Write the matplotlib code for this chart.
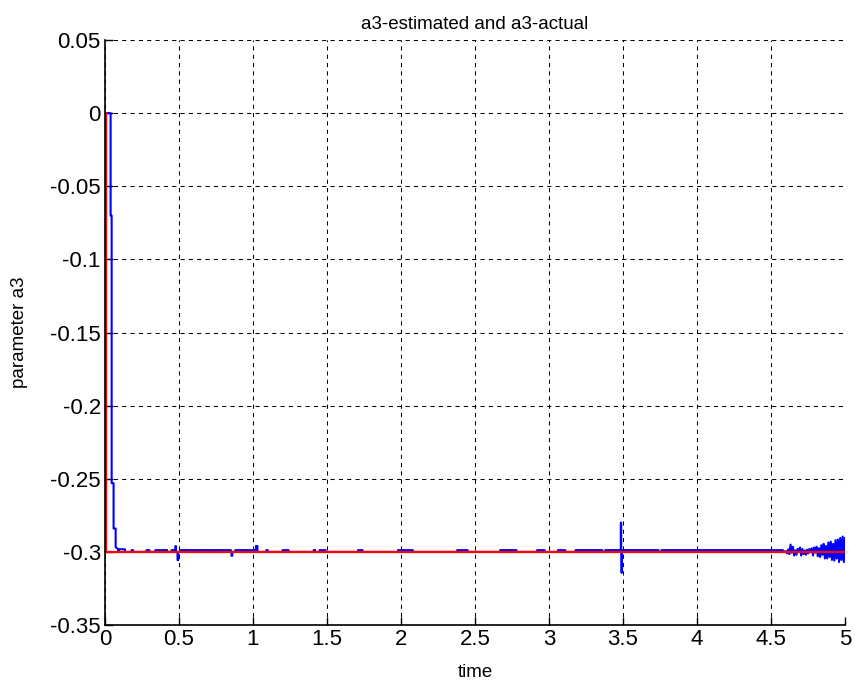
import matplotlib.pyplot as plt
import numpy as np

plt.rcParams["font.family"] = ["Liberation Sans", "DejaVu Sans"]

# Actual parameter: steps from 0 to -0.3 right at the start
actual_t = [0.0, 0.008, 0.008, 5.0]
actual_v = [0.0, 0.0, -0.3, -0.3]

# Estimated parameter: start-up transient
trans_t = [0.0, 0.038, 0.038, 0.045, 0.045, 0.058, 0.058, 0.072, 0.072, 0.09]
trans_v = [0.0, 0.0, -0.07, -0.07, -0.253, -0.253, -0.284, -0.284, -0.2968, -0.2982]

# Short excursions of the estimate around -0.3 (start, end, level)
ev_start = [0.09, 0.18, 0.28, 0.34, 0.38, 0.45, 0.475, 0.49, 0.51, 0.61, 0.74, 0.855,
            0.88, 1.02, 1.09, 1.20, 1.41, 1.45, 1.71, 1.98, 2.38, 2.67, 2.92, 3.06,
            3.18, 3.38, 3.485, 3.49, 3.50, 3.76]
ev_end = [0.135, 0.19, 0.30, 0.37, 0.42, 0.47, 0.48, 0.495, 0.60, 0.73, 0.85, 0.86,
          1.01, 1.03, 1.10, 1.24, 1.42, 1.49, 1.74, 2.08, 2.45, 2.78, 2.97, 3.11,
          3.36, 3.48, 3.488, 3.492, 3.74, 4.58]
ev_level = [-0.2982, -0.2988, -0.2988, -0.2988, -0.2988, -0.2988, -0.2961, -0.3056,
            -0.2988, -0.2988, -0.2988, -0.3027, -0.2988, -0.2960, -0.2988, -0.2988,
            -0.2988, -0.2988, -0.2988, -0.2988, -0.2988, -0.2988, -0.2988, -0.2988,
            -0.2988, -0.2988, -0.2800, -0.3143, -0.2988, -0.2988]

# Growing oscillation towards the end of the run (offsets in 1e-3)
tail_t = np.linspace(4.6, 5.0, 51)
tail_off = [0, -1.5, 1.2, -2.0, 4.5, -1.0, 3.0, -3.0, 0.5, -2.5, 1.5, -0.5, 2.5,
            -3.0, 1.5, -2.0, 0.5, -2.5, 1.0, -1.5, 1.5, -0.5, 2.0, -3.0, 2.5, -1.0,
            3.0, -3.5, 2.0, -4.0, 4.0, -2.5, 5.0, -5.0, 3.5, -5.0, 6.0, -4.0, 6.5,
            -6.0, 5.0, -6.5, 7.5, -5.0, 8.0, -7.5, 9.0, -6.0, 10.0, -7.5, 9.0]

est_t = list(trans_t)
est_v = list(trans_v)
base = -0.3
for t0, t1, lv in zip(ev_start, ev_end, ev_level):
    est_t += [t0, t0, t1, t1]
    est_v += [base, lv, lv, base]
est_t += list(tail_t)
est_v += [-0.2995 + o * 1e-3 for o in tail_off]

fig = plt.figure(figsize=(8.55, 6.9), dpi=100)
ax = fig.add_axes([0.1228, 0.0942, 0.8655, 0.8478])

ax.plot(est_t, est_v, color="#0000ff", lw=1.5)
ax.plot(actual_t, actual_v, color="#ff0000", lw=1.6)

ax.set_xlim(0, 5)
ax.set_ylim(-0.35, 0.05)
ax.set_xticks(np.arange(0, 5.01, 0.5))
ax.set_yticks(np.arange(-0.35, 0.051, 0.05))
ax.set_xticklabels(["0", "0.5", "1", "1.5", "2", "2.5", "3", "3.5", "4", "4.5", "5"])
ax.set_yticklabels(["-0.35", "-0.3", "-0.25", "-0.2", "-0.15", "-0.1", "-0.05", "0", "0.05"])

for lab in ax.get_xticklabels() + ax.get_yticklabels():
    lab.set_family(["Liberation Sans Narrow", "Liberation Sans", "DejaVu Sans"])
    lab.set_fontsize(16)

ax.grid(True, color="black", linestyle=(0, (4, 4)), linewidth=0.75)
ax.spines["top"].set_visible(False)
ax.spines["right"].set_visible(False)
ax.spines["left"].set_linewidth(1.2)
ax.spines["bottom"].set_linewidth(1.2)
ax.tick_params(direction="in", length=6, width=1, pad=3)

ax.set_title("a3-estimated and a3-actual", fontsize=13.5, pad=8)
ax.set_xlabel("time", fontsize=13.5, labelpad=10)
ax.set_ylabel("parameter a3", fontsize=13.5, labelpad=16)

fig.savefig("out.png", dpi=100)
